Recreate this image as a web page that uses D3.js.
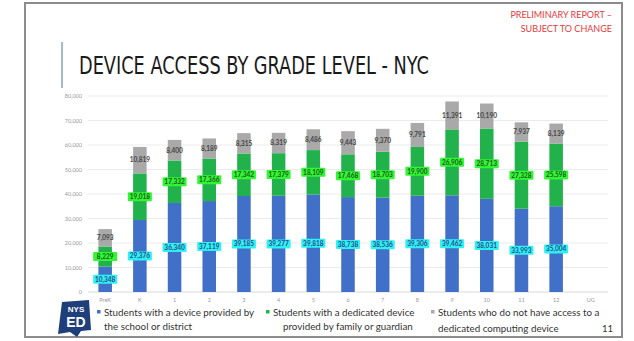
<!DOCTYPE html>
<html><head><meta charset="utf-8">
<script src="https://cdn.jsdelivr.net/npm/d3@7"></script>
<style>html,body{margin:0;padding:0;background:#fff;}svg{display:block;}</style>
</head><body>
<svg id="c" width="634" height="341"></svg>
<script>
const categories = ["PreK","K","1","2","3","4","5","6","7","8","9","10","11","12","UG"];
const schoolDevice = [10348,29376,36340,37119,39185,39277,39818,38738,38536,39306,39462,38031,33993,35004,0];
const familyDevice = [8229,19018,17332,17366,17342,17379,18109,17468,18703,19900,26906,28713,27328,25598,0];
const noDevice     = [7093,10819,8400,8189,8315,8319,8486,9443,9370,9791,11391,10190,7937,8139,0];
const yTicks = [0,10000,20000,30000,40000,50000,60000,70000,80000];
const seriesNames = ["Students with a device provided by|the school or district",
                     "Students with a dedicated device|provided by family or guardian",
                     "Students who do not have access to a|dedicated computing device"];

const colors = ["#4170c8","#22b24c","#a9a9a9"];
const labelBg = ["#2ef2f2","#33f533",null];

const svg = d3.select("#c");
// frame
svg.append("rect").attr("x",25).attr("y",3).attr("width",597).attr("height",334)
  .attr("fill","#fff").attr("stroke","#8c8c8c").attr("stroke-width",2);

// red note
const note = svg.append("g").attr("font-family","Lato, 'Open Sans', sans-serif").attr("font-size",9)
  .attr("fill","#e8383b").attr("text-anchor","end");
note.append("text").attr("x",612).attr("y",18).text("PRELIMINARY REPORT –");
note.append("text").attr("x",612).attr("y",32).text("SUBJECT TO CHANGE");

// title
svg.append("line").attr("x1",62).attr("x2",62).attr("y1",42).attr("y2",88)
  .attr("stroke","#8aa0c0").attr("stroke-width",1.5);
svg.append("text").attr("x",79).attr("y",74)
  .attr("font-family","'Liberation Sans Narrow','DejaVu Sans Condensed',sans-serif")
  .attr("font-size",25).attr("fill","#1a1a1a").attr("textLength",350).attr("lengthAdjust","spacingAndGlyphs")
  .text("DEVICE ACCESS BY GRADE LEVEL - NYC");

const x = d3.scaleBand().domain(categories).range([88,608]).paddingInner(0.61).paddingOuter(0.3);
const y = d3.scaleLinear().domain([0,80000]).range([292,96]);

// grid
const g = svg.append("g");
g.selectAll("line.grid").data(yTicks).join("line")
  .attr("x1",88).attr("x2",608).attr("y1",d=>y(d)).attr("y2",d=>y(d))
  .attr("stroke",d=>d===0?"#cfcfcf":"#e6e6e6").attr("stroke-width",0.8);

const yAxis = d3.axisLeft(y).tickValues(yTicks).tickFormat(d3.format(",")).tickSize(0).tickPadding(6);
const ya = svg.append("g").attr("transform","translate(88,0)").call(yAxis);
ya.select(".domain").remove();
ya.selectAll("text").attr("font-family","Lato, sans-serif").attr("font-size",5.5).attr("fill","#999");

const xAxis = d3.axisBottom(x).tickSize(0).tickPadding(6);
const xa = svg.append("g").attr("transform","translate(0,292)").call(xAxis);
xa.select(".domain").remove();
xa.selectAll("text").attr("font-family","Lato, sans-serif").attr("font-size",5.5).attr("fill","#999");

// stacks
const rows = categories.map((c,i)=>({cat:c, s0:schoolDevice[i], s1:familyDevice[i], s2:noDevice[i]}));
const stack = d3.stack().keys(["s0","s1","s2"])(rows);
const layers = svg.append("g").selectAll("g").data(stack).join("g").attr("fill",(d,i)=>colors[i]);
layers.selectAll("rect").data(d=>d).join("rect")
  .attr("x",d=>x(d.data.cat)).attr("width",x.bandwidth())
  .attr("y",d=>y(d[1])).attr("height",d=>y(d[0])-y(d[1]));

// labels
const fmt = d3.format(",");
stack.forEach((layer,li)=>{
  const lg = svg.append("g");
  layer.forEach(d=>{
    const v = d[1]-d[0];
    if (v<=0) return;
    const cx = x(d.data.cat)+x.bandwidth()/2;
    const cy = (y(d[0])+y(d[1]))/2;
    if (labelBg[li]) {
      lg.append("rect").attr("x",cx-12).attr("y",cy-4.5).attr("width",24).attr("height",9)
        .attr("fill",labelBg[li]).attr("rx",1);
    }
    lg.append("text").attr("x",cx).attr("y",cy+2.3).attr("text-anchor","middle")
      .attr("font-family","Lato, sans-serif").attr("font-size",6.5).attr("font-weight","bold")
      .attr("fill", li===0?"#2a4a90": li===1?"#1a5a20":"#444").text(fmt(v));
  });
});

// logo
const logo = svg.append("g");
logo.append("path").attr("d","M62,302 L89,300 L91,330 L81,331 L77,337 L70,332 L58,334 L60,318 Z").attr("fill","#1e3f7a");
logo.append("text").attr("x",76).attr("y",312).attr("text-anchor","middle").attr("font-family","'Liberation Sans Narrow',sans-serif")
  .attr("font-size",8).attr("font-weight","bold").attr("fill","#fff").text("NYS");
logo.append("text").attr("x",76).attr("y",327).attr("text-anchor","middle").attr("font-family","'Liberation Sans Narrow',sans-serif")
  .attr("font-size",14).attr("font-weight","bold").attr("fill","#fff").text("ED");

// legend
const legX = [97,266,431];
const leg = svg.append("g").attr("font-family","Lato, 'Open Sans', sans-serif").attr("font-size",9.8).attr("fill","#333");
seriesNames.forEach((n,i)=>{
  const parts = n.split("|");
  leg.append("rect").attr("x",legX[i]).attr("y",310).attr("width",3.5).attr("height",3.5).attr("fill",colors[i]);
  leg.append("text").attr("x",legX[i]+7).attr("y",316).text(parts[0]);
  leg.append("text").attr("x",legX[i]+7+(i===1?10:0)).attr("y",i===2?332:330).text(parts[1]);
});
svg.append("text").attr("x",613).attr("y",332).attr("text-anchor","end").attr("font-family","Lato, sans-serif")
  .attr("font-size",9.5).attr("fill","#333").text("11");
</script>
</body></html>
